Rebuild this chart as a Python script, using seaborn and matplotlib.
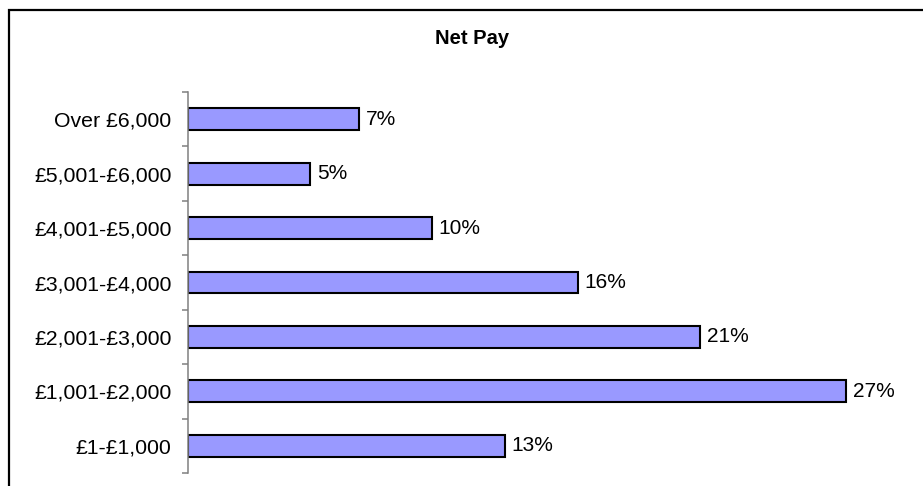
import matplotlib
matplotlib.use("Agg")
import matplotlib.pyplot as plt
import matplotlib.patches as mpatches
import numpy as np
import pandas as pd
import seaborn as sns

# Net pay bands (top to bottom) and share of respondents in each, in percent
bands = ["Over £6,000", "£5,001-£6,000", "£4,001-£5,000", "£3,001-£4,000",
         "£2,001-£3,000", "£1,001-£2,000", "£1-£1,000"]
shares = [7, 5, 10, 16, 21, 27, 13]
title = "Net Pay"

sns.set_style("white")
plt.rcParams["font.family"] = ["Liberation Sans", "DejaVu Sans"]
plt.rcParams["text.color"] = "black"
plt.rcParams["ytick.labelcolor"] = "black"

df = pd.DataFrame({"band": bands, "share": shares})

fig = plt.figure(figsize=(9.23, 4.86), dpi=100)
ax = fig.add_axes([188 / 923, 1 - 473 / 486, (919 - 188) / 923, (473 - 92) / 486])

sns.barplot(data=df, x="share", y="band", order=bands, orient="h",
            color="#9999FF", saturation=1, width=0.4,
            edgecolor="black", linewidth=1.5, ax=ax)

for c in ax.containers:
    ax.bar_label(c, labels=[f"{v:g}%" for v in df["share"]],
                 padding=5, fontsize=15, color="black")

ax.set_xlim(0, 30)
ax.set_ylim(len(bands) - 0.5, -0.5)
ax.set_xlabel("")
ax.set_ylabel("")
ax.set_xticks([])

# category labels without marks; marks sit on the boundaries between bands
ax.tick_params(axis="y", which="major", length=0, pad=12, labelsize=15.3,
               labelcolor="black")
ax.set_yticks(np.arange(-0.5, len(bands)), minor=True)
ax.tick_params(axis="y", which="minor", length=4.5, width=1.1,
               color="#808080", direction="out", left=True)

for side in ["top", "right", "bottom"]:
    ax.spines[side].set_visible(False)
ax.spines["left"].set_color("#808080")
ax.spines["left"].set_linewidth(1.1)

fig.text(472 / 923, 1 - 44 / 486, title, ha="center", va="baseline",
         fontsize=14.5, fontweight="bold", color="black")

# chart frame
frame = mpatches.Rectangle((9 / 923, -0.1), 1.2, 1 - 9.8 / 486 + 0.1,
                           transform=fig.transFigure, fill=False,
                           edgecolor="black", linewidth=1.6, clip_on=False)
fig.patches.append(frame)

fig.savefig("out.png", dpi=100)
